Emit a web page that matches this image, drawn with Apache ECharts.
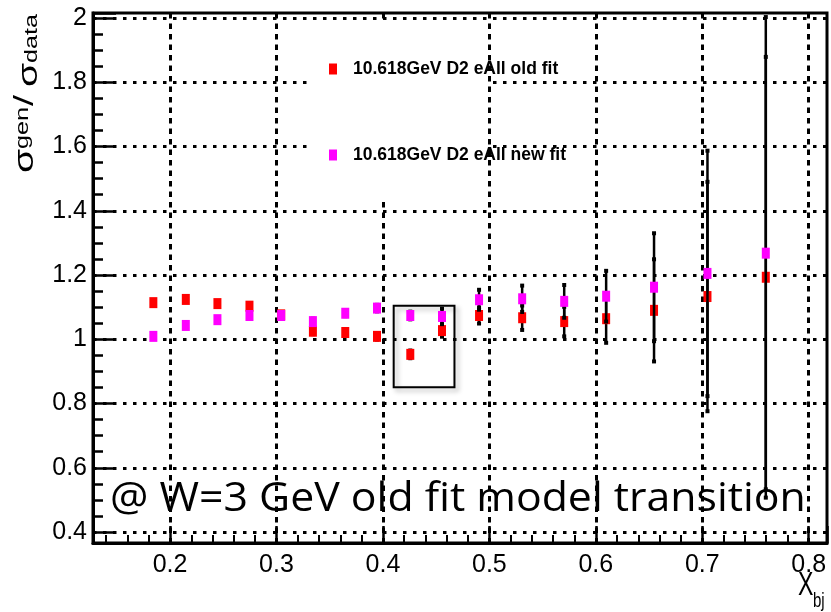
<!DOCTYPE html>
<html>
<head>
<meta charset="utf-8">
<script src="https://cdn.jsdelivr.net/npm/echarts@6/dist/echarts.min.js"></script>
<style>
  html, body { margin: 0; padding: 0; background: #ffffff; }
  #chart { width: 831px; height: 612px; }
</style>
</head>
<body>
<div id="chart"></div>
<script>
// Bjorken-x bin centres
const xbj = [0.1843, 0.2148, 0.2445, 0.2746, 0.3044, 0.3342, 0.3646, 0.3944, 0.4257,
             0.4555, 0.4903, 0.5308, 0.5703, 0.6097, 0.6547, 0.7049, 0.7597];

// sigma_gen / sigma_data, old fit model
const ratioOldFit = [1.114, 1.124, 1.111, 1.103, 1.076, 1.025, 1.021, 1.009, 0.953,
                     1.027, 1.074, 1.067, 1.055, 1.064, 1.090, 1.133, 1.193];
const errOldFit   = [0.008, 0.008, 0.008, 0.008, 0.008, 0.009, 0.009, 0.010, 0.012,
                     0.019, 0.025, 0.038, 0.046, 0.075, 0.159, 0.357, 0.686];

// sigma_gen / sigma_data, new fit model
const ratioNewFit = [1.009, 1.043, 1.061, 1.074, 1.074, 1.055, 1.081, 1.097, 1.074,
                     1.071, 1.123, 1.126, 1.118, 1.134, 1.162, 1.205, 1.268];
const errNewFit   = [0.008, 0.008, 0.008, 0.008, 0.008, 0.009, 0.009, 0.010, 0.012,
                     0.024, 0.031, 0.041, 0.051, 0.079, 0.168, 0.382, 0.735];

const seriesNames = ['10.618GeV D2 eAll old fit', '10.618GeV D2 eAll new fit'];

// axis ranges and the highlighted bins region
const xRange = [0.1276, 0.8172];
const yRange = [0.3658, 2.0156];
const boxCorners = [[0.4101, 1.1045], [0.4672, 0.8505]];

const caption = '@ W=3 GeV old fit model transition';

const HELV = "'Liberation Sans', Arial, sans-serif";

const points = vals => xbj.map((x, i) => [x, vals[i]]);
const bars = (vals, errs) => xbj.map((x, i) => [x, vals[i] - errs[i], vals[i] + errs[i]]);

function renderErrorBar(params, api) {
  const x = api.value(0);
  const lo = api.coord([x, api.value(1)]);
  const hi = api.coord([x, api.value(2)]);
  const cap = 4;
  return {
    type: 'group',
    children: [
      { type: 'line', shape: { x1: lo[0], y1: lo[1], x2: hi[0], y2: hi[1] },
        style: { stroke: '#000', lineWidth: 2.5 } },
      { type: 'rect', shape: { x: lo[0] - cap / 2, y: lo[1] - cap / 2, width: cap, height: cap },
        style: { fill: '#000' } },
      { type: 'rect', shape: { x: hi[0] - cap / 2, y: hi[1] - cap / 2, width: cap, height: cap },
        style: { fill: '#000' } }
    ]
  };
}

const chart = echarts.init(document.getElementById('chart'), null, { renderer: 'canvas' });

const option = {
  animation: false,
  backgroundColor: '#ffffff',
  grid: {
    left: 93, right: 4, top: 13, bottom: 69,
    show: true, borderColor: '#000', borderWidth: 3,
    backgroundColor: 'transparent',
    containLabel: false, outerBoundsMode: 'none'
  },
  xAxis: {
    type: 'value',
    min: xRange[0], max: xRange[1],
    minInterval: 0.1, maxInterval: 0.1, splitNumber: 7,
    axisLine: { show: true, onZero: false, lineStyle: { color: '#000', width: 3 } },
    axisTick: { show: true, inside: true, length: 17, lineStyle: { color: '#000', width: 2.5 } },
    minorTick: { show: true, splitNumber: 5, length: 8, lineStyle: { color: '#000', width: 2 } },
    axisLabel: {
      showMinLabel: false, showMaxLabel: false,
      fontFamily: HELV, fontSize: 25, color: '#000', margin: 10
    },
    splitLine: {
      show: true, showMinLine: false, showMaxLine: false,
      lineStyle: { color: '#000', width: 3, type: [5.5, 5] }
    },
    minorSplitLine: { show: false }
  },
  yAxis: {
    type: 'value',
    min: yRange[0], max: yRange[1],
    minInterval: 0.2, maxInterval: 0.2, splitNumber: 8,
    axisLine: { show: true, onZero: false, lineStyle: { color: '#000', width: 3 } },
    axisTick: { show: true, inside: true, length: 23, lineStyle: { color: '#000', width: 2.5 } },
    minorTick: { show: true, splitNumber: 4, length: 10, lineStyle: { color: '#000', width: 2.5 } },
    axisLabel: {
      showMinLabel: false, showMaxLabel: false,
      fontFamily: HELV, fontSize: 25, color: '#000', margin: 6
    },
    splitLine: {
      show: true, showMinLine: false, showMaxLine: false,
      lineStyle: { color: '#000', width: 3, type: [3.5, 6.5] }
    },
    minorSplitLine: { show: false }
  },
  legend: {
    data: seriesNames,
    orient: 'vertical',
    left: 329, top: 58, padding: 0,
    itemWidth: 8, itemHeight: 11, itemGap: 64,
    icon: 'rect',
    z: 5,
    textStyle: {
      fontFamily: HELV, fontWeight: 'bold', fontSize: 17.5, lineHeight: 22,
      color: '#000', padding: [0, 0, 0, 11]
    }
  },
  graphic: [
    // white panel behind the legend
    { type: 'rect', z: 1, shape: { x: 311, y: 21, width: 176, height: 178 },
      style: { fill: '#ffffff' }, silent: true },
    // caption
    { type: 'text', z: 6, x: 110, y: 500, scaleX: 1.07, silent: true,
      style: { text: caption, font: "40px 'Open Sans', sans-serif", fill: '#000',
               textAlign: 'left', textVerticalAlign: 'middle' } },
    // y axis title, reading upwards
    { type: 'group', x: 0, y: 173, rotation: Math.PI / 2, silent: true, z: 6,
      children: [
        { type: 'text', x: 0, y: 25, scaleX: 1.4,
          style: { text: 'σ', font: '28px ' + HELV, fill: '#000', textVerticalAlign: 'middle' } },
        { type: 'text', x: 24, y: 23, scaleX: 1.4,
          style: { text: 'gen', font: '18px ' + HELV, fill: '#000', textVerticalAlign: 'middle' } },
        { type: 'text', x: 67, y: 25, scaleX: 1.4,
          style: { text: '/', font: '28px ' + HELV, fill: '#000', textVerticalAlign: 'middle' } },
        { type: 'text', x: 86, y: 29, scaleX: 1.4,
          style: { text: 'σ', font: '28px ' + HELV, fill: '#000', textVerticalAlign: 'middle' } },
        { type: 'text', x: 110, y: 32, scaleX: 1.4,
          style: { text: 'data', font: '18px ' + HELV, fill: '#000', textVerticalAlign: 'middle' } }
      ] },
    // x axis title
    { type: 'text', x: 798, y: 586, scaleX: 0.68, silent: true,
      style: { text: 'X', font: '34px ' + HELV, fill: '#000', textVerticalAlign: 'middle' } },
    { type: 'text', x: 813, y: 601, scaleX: 0.75, silent: true,
      style: { text: 'bj', font: '20px ' + HELV, fill: '#000', textVerticalAlign: 'middle' } }
  ],
  series: [
    {
      name: 'old fit errors', type: 'custom', z: 2, clip: true, silent: true,
      renderItem: renderErrorBar, encode: { x: 0, y: [1, 2] },
      data: bars(ratioOldFit, errOldFit)
    },
    {
      name: seriesNames[0], type: 'scatter', z: 3,
      symbol: 'rect', symbolSize: [8, 11],
      itemStyle: { color: '#ff0000', opacity: 1 },
      data: points(ratioOldFit),
      markArea: {
        silent: true,
        itemStyle: {
          color: 'rgba(0,0,0,0)', borderColor: '#000', borderWidth: 2,
          shadowBlur: 5, shadowOffsetX: 3, shadowOffsetY: 3, shadowColor: 'rgba(0,0,0,0.3)'
        },
        label: { show: false },
        data: [[{ coord: boxCorners[0] }, { coord: boxCorners[1] }]]
      }
    },
    {
      name: 'new fit errors', type: 'custom', z: 4, clip: true, silent: true,
      renderItem: renderErrorBar, encode: { x: 0, y: [1, 2] },
      data: bars(ratioNewFit, errNewFit)
    },
    {
      name: seriesNames[1], type: 'scatter', z: 5,
      symbol: 'rect', symbolSize: [8, 11],
      itemStyle: { color: '#ff00ff', opacity: 1 },
      data: points(ratioNewFit)
    }
  ]
};

chart.setOption(option);
</script>
</body>
</html>
